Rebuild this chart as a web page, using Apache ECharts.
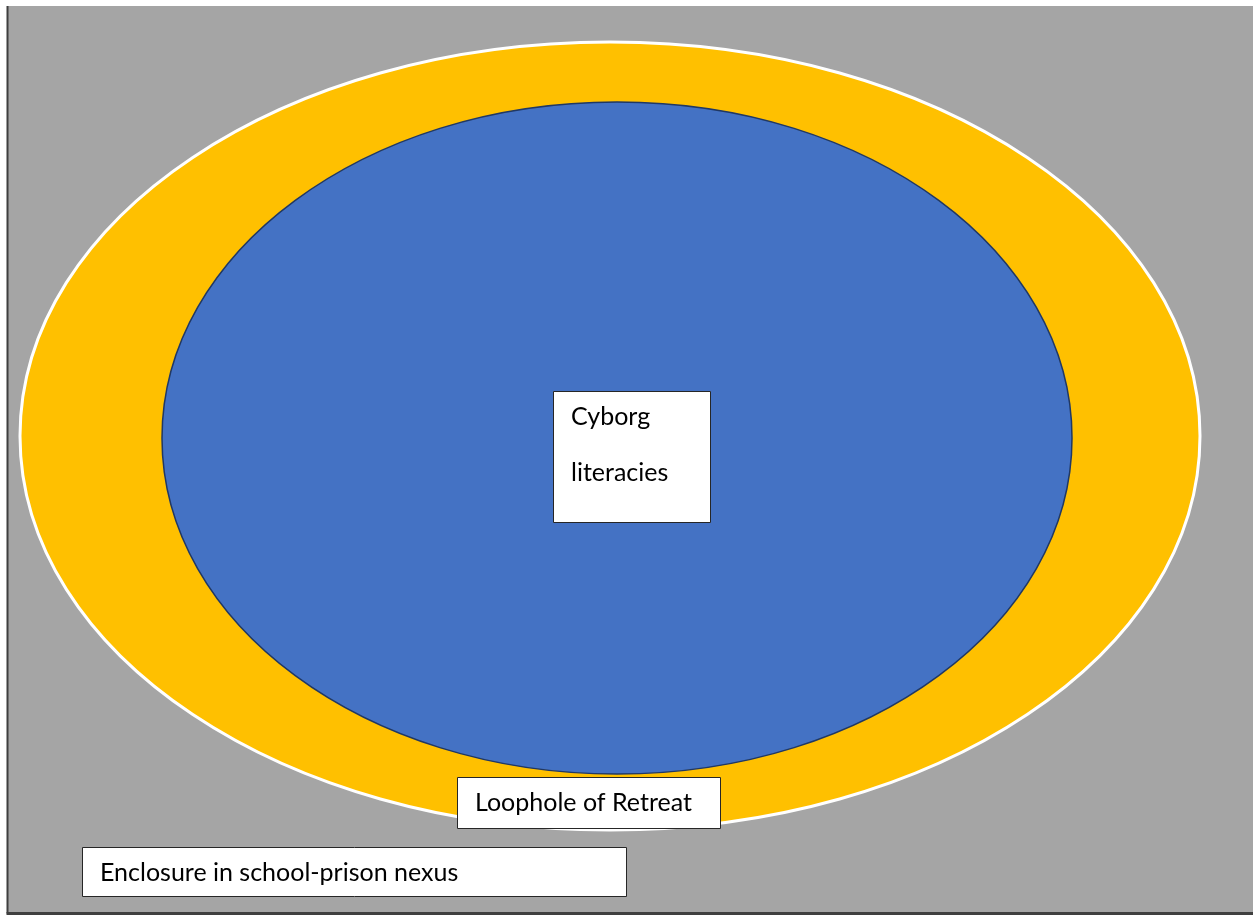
<!DOCTYPE html>
<html>
<head>
<meta charset="utf-8">
<script src="https://cdn.jsdelivr.net/npm/echarts@6/dist/echarts.min.js"></script>
<style>
  html, body { margin: 0; padding: 0; background: #fff; }
  #chart { width: 1253px; height: 915px; }
</style>
</head>
<body>
<div id="chart"></div>
<script>
// diagram drawn in a plain pixel-like value space (x right, y down)
const panel = [8, 6, 1253, 912] // x0, y0, x1, y1

// nested regions: [name, cx, cy, rx, ry]
const regions = [
  ['Enclosure', 610, 436, 590, 394],
  ['Cyborg', 617, 438, 455, 336],
]

// label boxes: [text, x0, y0, x1, y1, first line centre y]
const labels = [
  ['Cyborg\nliteracies', 553, 391, 710, 522, 417],
  ['Loophole of Retreat', 457, 777, 720, 828, 803],
  ['Enclosure in school-prison nexus', 82, 847, 626, 896, 873],
]

const regionFill = ['#ffc000', '#4472c4']
const regionStroke = ['#ffffff', '#203864']
const regionLineWidth = [3, 1.5]

const chart = echarts.init(document.getElementById('chart'))

const option = {
  animation: false,
  backgroundColor: '#ffffff',
  grid: { left: 0, right: 0, top: 0, bottom: 0 },
  xAxis: { type: 'value', min: 0, max: 1253, show: false },
  yAxis: { type: 'value', min: 0, max: 915, inverse: true, show: false },
  series: [
    {
      type: 'custom',
      name: 'panel',
      data: [panel],
      renderItem: (params, api) => {
        const a = api.coord([api.value(0), api.value(1)])
        const b = api.coord([api.value(2), api.value(3)])
        return {
          type: 'group',
          children: [
            { type: 'rect', shape: { x: a[0], y: a[1], width: b[0] - a[0], height: b[1] - a[1] },
              style: { fill: '#a5a5a5' } },
            { type: 'line', shape: { x1: a[0] - 0.5, y1: a[1], x2: a[0] - 0.5, y2: b[1] + 1.5 },
              style: { stroke: '#3f3f3f', lineWidth: 2 } },
            { type: 'line', shape: { x1: a[0] - 1.5, y1: b[1] + 1.5, x2: b[0], y2: b[1] + 1.5 },
              style: { stroke: '#3f3f3f', lineWidth: 3 } },
          ],
        }
      },
    },
    {
      type: 'custom',
      name: 'regions',
      data: regions.map(r => r.slice(1)),
      renderItem: (params, api) => {
        const c = api.coord([api.value(0), api.value(1)])
        const e = api.coord([api.value(0) + api.value(2), api.value(1) + api.value(3)])
        const i = params.dataIndex
        return {
          type: 'ellipse',
          shape: { cx: c[0], cy: c[1], rx: e[0] - c[0], ry: e[1] - c[1] },
          style: { fill: regionFill[i], stroke: regionStroke[i], lineWidth: regionLineWidth[i] },
        }
      },
    },
    {
      type: 'custom',
      name: 'labels',
      data: labels.map(l => l.slice(1)),
      renderItem: (params, api) => {
        const a = api.coord([api.value(0), api.value(1)])
        const b = api.coord([api.value(2), api.value(3)])
        const ty = api.coord([0, api.value(4)])[1]
        const text = labels[params.dataIndex][0]
        return {
          type: 'group',
          children: [
            { type: 'rect', shape: { x: a[0] + 0.5, y: a[1] + 0.5, width: b[0] - a[0], height: b[1] - a[1] },
              style: { fill: '#ffffff', stroke: '#262626', lineWidth: 1 } },
            { type: 'text',
              x: a[0] + 18,
              y: ty - 28,
              style: {
                text: text,
                fill: '#000000',
                font: '25px Lato, "Open Sans", sans-serif',
                lineHeight: 56,
                verticalAlign: 'top',
                align: 'left',
              } },
          ],
        }
      },
    },
  ],
}

chart.setOption(option)
window.addEventListener('resize', () => chart.resize())
</script>
</body>
</html>
